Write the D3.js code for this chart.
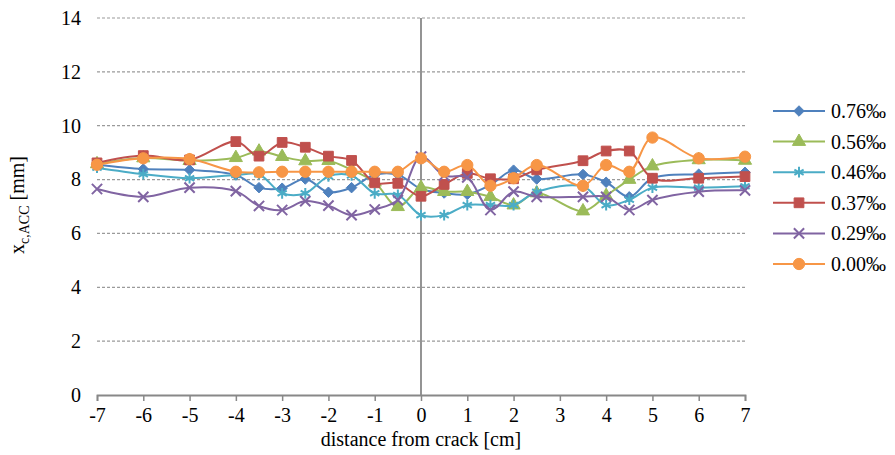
<!DOCTYPE html>
<html>
<head>
<meta charset="UTF-8">
<title>xc,ACC vs distance from crack</title>
<script src="https://d3js.org/d3.v7.min.js"></script>
<style>
  body { margin: 0; background: #fff; }
  svg text { font-family: "Liberation Serif", "Times New Roman", "DejaVu Serif", serif !important; fill: #000; }
</style>
</head>
<body>
<div id="chart"></div>
<script>

// distance from crack [cm]
var distance = [-7, -6, -5, -4, -3.5, -3, -2.5, -2, -1.5, -1, -0.5, 0, 0.5, 1, 1.5, 2, 2.5, 3.5, 4, 4.5, 5, 6, 7];

// xc,ACC [mm] for each strain level
var s076 = [8.55, 8.39, 8.36, 8.17, 7.70, 7.68, 8.02, 7.53, 7.70, 8.18, 8.18, 7.65, 7.50, 7.45, 7.80, 8.35, 8.02, 8.19, 7.90, 7.36, 8.05, 8.20, 8.27];
var s056 = [8.58, 8.80, 8.70, 8.81, 9.05, 8.85, 8.69, 8.70, 8.36, 7.90, 6.99, 7.70, 7.55, 7.55, 7.36, 7.05, 7.50, 6.83, 7.40, 8.00, 8.50, 8.73, 8.71];
var s046 = [8.44, 8.20, 8.05, 8.17, 8.19, 7.49, 7.49, 8.12, 8.15, 7.49, 7.43, 6.68, 6.68, 7.05, 7.05, 7.05, 7.55, 7.74, 7.05, 7.25, 7.70, 7.70, 7.75];
var s037 = [8.62, 8.89, 8.73, 9.41, 8.87, 9.38, 9.20, 8.87, 8.71, 7.88, 7.86, 7.38, 7.82, 8.23, 8.03, 8.03, 8.36, 8.70, 9.06, 9.06, 8.05, 8.05, 8.11];
var s029 = [7.65, 7.36, 7.70, 7.57, 7.02, 6.87, 7.20, 7.03, 6.68, 6.89, 7.24, 8.85, 8.15, 8.08, 6.87, 7.55, 7.36, 7.36, 7.36, 6.87, 7.24, 7.55, 7.60];
var s000 = [8.55, 8.79, 8.76, 8.29, 8.27, 8.29, 8.29, 8.29, 8.29, 8.29, 8.29, 8.79, 8.29, 8.54, 7.77, 8.05, 8.54, 7.77, 8.54, 8.29, 9.56, 8.79, 8.85];

var seriesNames = ["0.76\u2030", "0.56\u2030", "0.46\u2030", "0.37\u2030", "0.29\u2030", "0.00\u2030"];
var seriesValues = [s076, s056, s046, s037, s029, s000];
var seriesColors = ["#4F81BD", "#9BBB59", "#4BACC6", "#C0504D", "#8064A2", "#F79646"];
var seriesMarkers = ["diamond", "triangle", "star", "square", "x", "circle"];

var xTicks = [-7, -6, -5, -4, -3, -2, -1, 0, 1, 2, 3, 4, 5, 6, 7];
var yTicks = [0, 2, 4, 6, 8, 10, 12, 14];

var W = 895, H = 455;
var margin = {top: 18, right: 150, bottom: 60, left: 97},
    width = 745 - margin.left,
    height = 395 - margin.top;

var svg = d3.select("#chart")
  .append("svg")
    .attr("width", W)
    .attr("height", H);

var g = svg.append("g")
    .attr("transform", "translate(" + margin.left + "," + margin.top + ")");

var x = d3.scaleLinear().domain([-7, 7]).range([0, width]);
var y = d3.scaleLinear().domain([0, 14]).range([height, 0]);

// dashed gridlines
g.selectAll(".grid")
  .data(yTicks.filter(function(d) { return d > 0; }))
  .enter().append("line")
    .attr("x1", 0)
    .attr("x2", width)
    .attr("y1", function(d) { return y(d); })
    .attr("y2", function(d) { return y(d); })
    .attr("stroke", "#9a9a9a")
    .attr("stroke-width", 1.2)
    .attr("stroke-dasharray", "3,2");

// x axis, plain hyphen for negatives like the original
var xAxis = d3.axisBottom(x).tickValues(xTicks).tickSize(6).tickPadding(7)
    .tickFormat(function(d) { return String(d); });
var gx = g.append("g")
    .attr("transform", "translate(0," + height + ")")
    .call(xAxis);
gx.select(".domain").attr("stroke", "#888").attr("stroke-width", 1.8);
gx.selectAll(".tick line").attr("stroke", "#888").attr("stroke-width", 1.5);
gx.selectAll(".tick text").style("font-size", "20px");

// y axis (labels only, no line)
var yAxis = d3.axisLeft(y).tickValues(yTicks).tickSize(0).tickPadding(16);
var gy = g.append("g").call(yAxis);
gy.select(".domain").remove();
gy.selectAll(".tick text").style("font-size", "20px");

// vertical line at the crack
g.append("line")
    .attr("x1", x(0)).attr("x2", x(0))
    .attr("y1", y(14)).attr("y2", y(0))
    .attr("stroke", "#888")
    .attr("stroke-width", 1.8);

// axis titles
svg.append("text")
    .attr("x", margin.left + x(0))
    .attr("y", 446)
    .attr("text-anchor", "middle")
    .style("font-size", "20px")
    .text("distance from crack [cm]");

var yt = svg.append("text")
    .attr("transform", "translate(24," + 205 + ") rotate(-90)")
    .attr("text-anchor", "middle")
    .style("font-size", "20px");
yt.append("tspan").text("x");
yt.append("tspan").style("font-size", "14px").attr("dy", 5).text("c,ACC");
yt.append("tspan").attr("dy", -5).text(" [mm]");

function markerPath(type) {
  if (type == "diamond") return d3.symbol().type(d3.symbolDiamond2).size(70)();
  if (type == "triangle") return d3.symbol().type(d3.symbolTriangle).size(75)();
  if (type == "star") return d3.symbol().type(d3.symbolAsterisk).size(80)();
  if (type == "square") return d3.symbol().type(d3.symbolSquare).size(95)();
  if (type == "x") return d3.symbol().type(d3.symbolX).size(70)();
  return d3.symbol().type(d3.symbolCircle).size(100)();
}

var line = d3.line()
    .x(function(d) { return x(d[0]); })
    .y(function(d) { return y(d[1]); })
    .curve(d3.curveCatmullRom.alpha(0.5));

seriesValues.forEach(function(vals, i) {
  var pts = distance.map(function(d, j) { return [d, vals[j]]; });
  var col = seriesColors[i];
  var mk = seriesMarkers[i];
  var open = (mk == "star" || mk == "x");

  g.append("path")
    .datum(pts)
    .attr("d", line)
    .attr("fill", "none")
    .attr("stroke", col)
    .attr("stroke-width", 2);

  g.selectAll(".m" + i)
    .data(pts)
    .enter().append("path")
      .attr("class", "m" + i)
      .attr("transform", function(d) { return "translate(" + x(d[0]) + "," + y(d[1]) + ")"; })
      .attr("d", markerPath(mk))
      .attr("fill", open ? "none" : col)
      .attr("stroke", col)
      .attr("stroke-width", open ? 2 : 1);
});

// legend
var legend = svg.append("g").attr("transform", "translate(773,111)");
seriesNames.forEach(function(name, i) {
  var row = legend.append("g").attr("transform", "translate(0," + (i * 30.6) + ")");
  var mk = seriesMarkers[i];
  var open = (mk == "star" || mk == "x");
  row.append("line")
    .attr("x1", 0).attr("x2", 52)
    .attr("stroke", seriesColors[i])
    .attr("stroke-width", 2);
  row.append("path")
    .attr("transform", "translate(26,0)")
    .attr("d", markerPath(mk))
    .attr("fill", open ? "none" : seriesColors[i])
    .attr("stroke", seriesColors[i])
    .attr("stroke-width", open ? 2 : 1);
  row.append("text")
    .attr("x", 58)
    .attr("y", 0)
    .attr("dy", "0.35em")
    .style("font-size", "20px")
    .text(name);
});

</script>
</body>
</html>
